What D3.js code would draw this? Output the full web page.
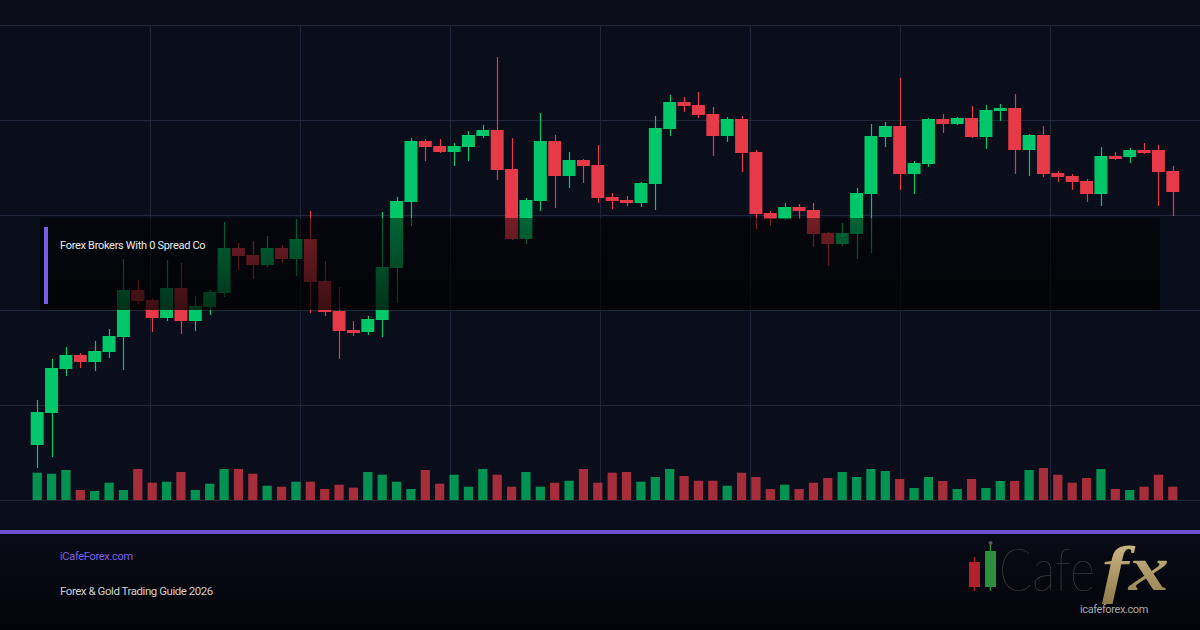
<!DOCTYPE html>
<html>
<head>
<meta charset="utf-8">
<script src="https://cdn.jsdelivr.net/npm/d3@7"></script>
<style>
  html, body { margin: 0; padding: 0; background: #0a0d19; }
  svg { display: block; }
</style>
</head>
<body>
<div id="chart"></div>
<script>
// candle data (price units), one entry per session
var open = [105.5,108.7,113.1,114.5,113.8,114.8,116.3,121.0,120.0,118.2,
            121.2,117.9,119.3,120.7,125.2,124.5,123.5,125.2,124.1,126.1,
            121.9,118.9,117.0,116.8,118.0,123.2,129.8,135.9,135.4,134.8,
            135.3,136.4,137.0,133.1,126.1,129.9,135.9,132.4,134.0,133.5,
            130.3,130.0,129.7,131.6,137.1,139.8,139.5,138.6,136.4,138.1,
            134.8,128.7,128.1,129.3,129.0,126.7,125.6,126.6,130.6,136.3,
            137.4,132.6,133.6,138.1,137.6,138.2,136.3,138.9,139.2,135.0,
            136.5,132.7,132.4,131.9,130.6,134.4,134.3,135.0,135.0,132.9];
var high = [110.0,114.1,115.3,114.7,115.9,117.1,124.1,122.0,120.2,124.0,
            123.7,120.4,121.0,127.8,125.7,125.9,126.4,125.5,128.1,128.9,
            123.9,121.3,117.9,118.4,128.8,130.3,136.2,136.1,136.1,135.7,
            136.9,137.5,144.3,136.2,130.2,138.7,136.5,134.8,134.1,135.5,
            130.7,130.4,131.8,138.4,140.5,140.3,140.8,139.3,138.3,138.4,
            135.0,128.9,129.7,129.6,129.7,126.8,127.7,131.2,137.6,137.8,
            142.2,133.9,138.2,138.6,138.3,139.4,139.5,139.6,140.6,136.6,
            137.4,132.9,132.6,132.1,135.3,134.8,135.2,135.7,135.5,133.4];
var low = [103.2,104.3,112.4,113.2,112.9,114.2,113.0,119.6,116.8,117.9,
           116.6,116.9,118.5,120.3,123.0,122.1,123.3,123.7,122.4,118.7,
           118.4,114.1,116.4,116.5,116.3,119.7,127.4,133.9,134.7,133.4,
           133.9,136.2,132.0,126.0,125.6,128.9,129.2,131.2,131.7,129.7,
           129.1,129.4,129.3,129.0,136.4,138.8,138.2,134.4,135.8,132.8,
           127.1,127.4,128.0,128.1,125.3,123.4,125.4,124.1,124.7,135.3,
           131.0,130.6,133.3,136.7,137.5,136.2,135.1,137.9,132.6,132.4,
           132.3,131.8,131.0,129.8,129.4,134.0,133.7,134.6,129.4,128.4];
var close = [108.8,113.2,114.5,113.8,114.9,116.4,121.0,119.9,118.2,121.2,
             117.9,119.4,120.8,125.2,124.4,123.5,125.2,124.1,126.1,121.8,
             118.8,116.9,116.7,118.1,123.3,129.9,135.9,135.3,134.8,135.4,
             136.5,137.0,133.0,126.1,130.0,135.9,132.4,134.0,133.4,130.2,
             129.9,129.7,131.7,137.2,139.8,139.4,138.5,136.4,138.1,134.7,
             128.6,128.1,129.3,128.9,126.6,125.6,126.7,130.7,136.4,137.4,
             132.6,133.7,138.1,137.6,138.2,136.3,139.0,139.2,135.0,136.5,
             132.6,132.3,131.8,130.6,134.4,134.1,135.0,134.7,132.8,130.8];
var volume = [2730,2630,3000,1000,900,1730,1000,3100,1730,1830,
              2800,1000,1630,3100,3100,2630,1430,1330,1830,1830,
              1100,1530,1230,2800,2530,1830,1100,3000,1630,2530,
              1330,3100,2530,1330,2800,1330,1730,1930,3100,1730,
              2730,2800,1830,2300,3100,2400,1930,1930,1430,2730,
              2300,1100,1530,1100,1730,2200,2800,2300,3100,2900,
              2100,1200,2300,1900,1100,2100,1200,1900,1900,3000,
              3200,2530,1730,2200,3100,1100,1000,1330,2530,1330];

var title = "Forex Brokers With 0 Spread Co";
var siteLabel = "iCafeForex.com";
var guideLabel = "Forex & Gold Trading Guide 2026";

var width = 1200, height = 630;
var upColor = "#00c86a", downColor = "#e63a48";

var svg = d3.select("#chart")
    .append("svg")
    .attr("width", width)
    .attr("height", height);

var defs = svg.append("defs");

// footer fades to black
var footGrad = defs.append("linearGradient")
    .attr("id", "footGrad").attr("x1", 0).attr("y1", 0).attr("x2", 0).attr("y2", 1);
footGrad.append("stop").attr("offset", "0%").attr("stop-color", "#090b16");
footGrad.append("stop").attr("offset", "100%").attr("stop-color", "#030409");

// dark label panel
var boxGrad = defs.append("linearGradient")
    .attr("id", "boxGrad").attr("x1", 0).attr("y1", 0).attr("x2", 0).attr("y2", 1);
boxGrad.append("stop").attr("offset", "0%").attr("stop-color", "#000").attr("stop-opacity", 0.5);
boxGrad.append("stop").attr("offset", "45%").attr("stop-color", "#000").attr("stop-opacity", 0.6);
boxGrad.append("stop").attr("offset", "100%").attr("stop-color", "#000").attr("stop-opacity", 0.75);

var goldGrad = defs.append("linearGradient")
    .attr("id", "goldGrad").attr("x1", 0).attr("y1", 0).attr("x2", 0).attr("y2", 1);
goldGrad.append("stop").attr("offset", "0%").attr("stop-color", "#d6c28e");
goldGrad.append("stop").attr("offset", "100%").attr("stop-color", "#8f7a4a");

// background
svg.append("rect").attr("width", width).attr("height", height).attr("fill", "#0a0d1a");
svg.append("rect").attr("y", 0).attr("width", width).attr("height", 25).attr("fill", "#0b0e19");
svg.append("rect").attr("y", 534).attr("width", width).attr("height", 96).attr("fill", "url(#footGrad)");

// background grid
var grid = svg.append("g").attr("stroke", "#20263a").attr("stroke-width", 1);
grid.selectAll(".h").data(d3.range(25, 501, 95)).enter().append("line")
    .attr("x1", 0).attr("x2", width)
    .attr("y1", function(d) { return d + 0.5; })
    .attr("y2", function(d) { return d + 0.5; });
grid.selectAll(".v").data(d3.range(150, 1051, 150)).enter().append("line")
    .attr("x1", function(d) { return d + 0.5; })
    .attr("x2", function(d) { return d + 0.5; })
    .attr("y1", 25).attr("y2", 500);

// scales
var idx = d3.range(open.length);
var x = d3.scaleBand()
    .domain(idx)
    .range([30, 1180])
    .paddingInner(0.1)
    .paddingOuter(0.05);
var y = d3.scaleLinear().domain([100, 150]).range([500, 0]);
var yVol = d3.scaleLinear().domain([0, 4000]).range([500, 460]);

function isUp(i) { return close[i] >= open[i]; }
function colorOf(i) { return isUp(i) ? upColor : downColor; }
function cx(i) { return x(i) + x.bandwidth() / 2; }

// volume bars
var volW = x.step() * 0.64;
svg.append("g").selectAll("rect")
    .data(idx)
    .enter().append("rect")
    .attr("x", function(i) { return cx(i) - volW / 2; })
    .attr("width", volW)
    .attr("y", function(i) { return yVol(volume[i]); })
    .attr("height", function(i) { return 500 - yVol(volume[i]); })
    .attr("fill", colorOf)
    .attr("opacity", 0.72);

// candles
var candles = svg.append("g").selectAll("g")
    .data(idx)
    .enter().append("g");

candles.append("line")
    .attr("x1", function(i) { return Math.round(cx(i)) + 0.5; })
    .attr("x2", function(i) { return Math.round(cx(i)) + 0.5; })
    .attr("y1", function(i) { return y(high[i]); })
    .attr("y2", function(i) { return y(low[i]); })
    .attr("stroke", colorOf)
    .attr("stroke-width", 1.2);

candles.append("rect")
    .attr("x", function(i) { return x(i); })
    .attr("width", x.bandwidth())
    .attr("y", function(i) { return y(Math.max(open[i], close[i])); })
    .attr("height", function(i) { return Math.max(1, Math.abs(y(open[i]) - y(close[i]))); })
    .attr("fill", colorOf);

// label panel over the chart
svg.append("rect")
    .attr("x", 40).attr("y", 218)
    .attr("width", 1120).attr("height", 92)
    .attr("fill", "url(#boxGrad)");
svg.append("rect")
    .attr("x", 44).attr("y", 227)
    .attr("width", 4).attr("height", 77)
    .attr("fill", "#7b5ce8");
svg.append("text")
    .attr("x", 60).attr("y", 249)
    .attr("font-family", "Roboto, sans-serif")
    .attr("font-size", 11)
    .attr("letter-spacing", -0.3)
    .attr("fill", "#ececec")
    .text(title);

// purple divider
svg.append("rect")
    .attr("x", 0).attr("y", 530)
    .attr("width", width).attr("height", 4)
    .attr("fill", "#6c50d2");

// footer
svg.append("text")
    .attr("x", 60).attr("y", 560)
    .attr("font-family", "Roboto, sans-serif")
    .attr("font-size", 11)
    .attr("letter-spacing", -0.3)
    .attr("fill", "#7e62e6")
    .text(siteLabel);
svg.append("text")
    .attr("x", 60).attr("y", 595)
    .attr("font-family", "Roboto, sans-serif")
    .attr("font-size", 11.5)
    .attr("letter-spacing", -0.46)
    .attr("fill", "#cfcfcf")
    .text(guideLabel);

// logo
var logo = svg.append("g");
logo.append("line").attr("x1", 974.5).attr("x2", 974.5).attr("y1", 557).attr("y2", 591)
    .attr("stroke", "#a82028").attr("stroke-width", 1.5);
logo.append("rect").attr("x", 969).attr("y", 562).attr("width", 11).attr("height", 25).attr("fill", "#b3212b");
logo.append("line").attr("x1", 990.5).attr("x2", 990.5).attr("y1", 544).attr("y2", 591)
    .attr("stroke", "#2b8a3c").attr("stroke-width", 1.5);
logo.append("circle").attr("cx", 990.5).attr("cy", 543).attr("r", 2).attr("fill", "#555");
logo.append("rect").attr("x", 985).attr("y", 551).attr("width", 11).attr("height", 36).attr("fill", "#2c8f3e");

// wordmark: narrow "Cafe" stretched tall, gold "fx"
logo.append("text")
    .attr("transform", "translate(999,591) scale(1,1.22)")
    .attr("font-family", "Lato, sans-serif")
    .attr("font-weight", 200)
    .attr("font-size", 49)
    .attr("textLength", 96)
    .attr("lengthAdjust", "spacingAndGlyphs")
    .attr("fill", "#4a4a4a")
    .text("Cafe");
logo.append("text")
    .attr("x", 1102).attr("y", 590)
    .attr("font-family", "'Liberation Serif', serif")
    .attr("font-style", "italic")
    .attr("font-weight", "bold")
    .attr("font-size", 64)
    .attr("textLength", 67)
    .attr("lengthAdjust", "spacingAndGlyphs")
    .attr("fill", "url(#goldGrad)")
    .text("fx");
logo.append("text")
    .attr("x", 1080).attr("y", 613)
    .attr("font-family", "Roboto, sans-serif")
    .attr("font-size", 11)
    .attr("letter-spacing", -0.4)
    .attr("fill", "#a8a8a8")
    .text("icafeforex.com");
</script>
</body>
</html>
